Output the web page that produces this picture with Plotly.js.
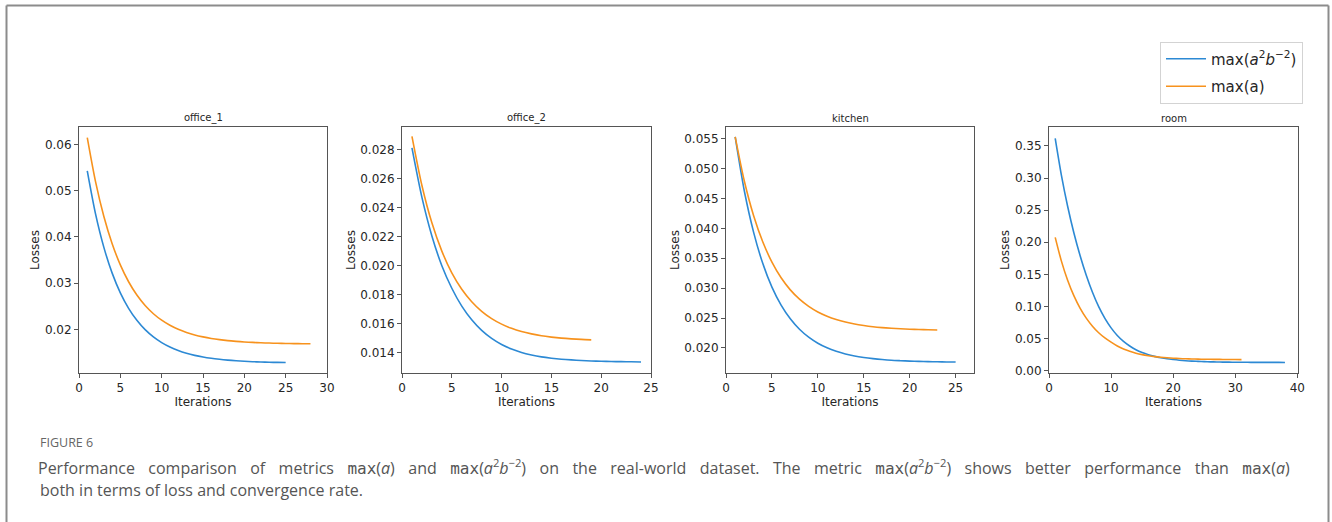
<!DOCTYPE html>
<html><head><meta charset="utf-8">
<script src="https://cdn.plot.ly/plotly-3.0.1.min.js"></script>
<style>html,body{margin:0;padding:0;background:#fff}</style>
</head><body><div id="chart" style="width:1332px;height:522px"></div>
<script>
// ---- data ----
const panelTitles = ['office_1', 'office_2', 'kitchen', 'room'];
const seriesNames = ['max(<i>a</i><sup>2</sup><i>b</i><sup>−2</sup>)', 'max(a)'];

const office1Iter_blue = [1,2,3,4,5,6,7,8,9,10,11,12,13,14,15,16,17,18,19,20,21,22,23,24,25];
const office1Loss_blue = [0.05430,0.04500,0.03780,0.03222,0.02790,0.02455,0.02195,0.01993,0.01836,0.01713,0.01617,0.01542,0.01483,0.01437,0.01401,0.01373,0.01351,0.01333,0.01319,0.01308,0.01300,0.01293,0.01288,0.01284,0.01281];
const office1Iter_orange = [1,2,3,4,5,6,7,8,9,10,11,12,13,14,15,16,17,18,19,20,21,22,23,24,25,26,27,28];
const office1Loss_orange = [0.06150,0.05198,0.04449,0.03859,0.03395,0.03030,0.02742,0.02516,0.02338,0.02198,0.02088,0.02001,0.01933,0.01879,0.01837,0.01803,0.01777,0.01756,0.01740,0.01727,0.01717,0.01709,0.01703,0.01698,0.01694,0.01691,0.01689,0.01687];

const office2Iter_blue = [1,2,3,4,5,6,7,8,9,10,11,12,13,14,15,16,17,18,19,20,21,22,23,24];
const office2Loss_blue = [0.02810,0.02470,0.02205,0.02000,0.01845,0.01722,0.01628,0.01555,0.01500,0.01458,0.01427,0.01403,0.01386,0.01373,0.01364,0.01357,0.01352,0.01348,0.01345,0.01343,0.01341,0.01340,0.01339,0.01338];
const office2Iter_orange = [1,2,3,4,5,6,7,8,9,10,11,12,13,14,15,16,17,18,19];
const office2Loss_orange = [0.02890,0.02552,0.02295,0.02100,0.01951,0.01838,0.01752,0.01686,0.01636,0.01598,0.01569,0.01547,0.01531,0.01518,0.01509,0.01502,0.01497,0.01493,0.01490];

const kitchenIter_blue = [1,2,3,4,5,6,7,8,9,10,11,12,13,14,15,16,17,18,19,20,21,22,23,24,25];
const kitchenLoss_blue = [0.05530,0.04625,0.03937,0.03415,0.03018,0.02716,0.02487,0.02312,0.02180,0.02079,0.02002,0.01944,0.01900,0.01866,0.01841,0.01822,0.01807,0.01795,0.01787,0.01780,0.01775,0.01771,0.01768,0.01766,0.01765];
const kitchenIter_orange = [1,2,3,4,5,6,7,8,9,10,11,12,13,14,15,16,17,18,19,20,21,22,23];
const kitchenLoss_orange = [0.05530,0.04788,0.04216,0.03775,0.03435,0.03173,0.02971,0.02815,0.02695,0.02602,0.02531,0.02476,0.02433,0.02400,0.02375,0.02355,0.02340,0.02329,0.02320,0.02313,0.02308,0.02304,0.02301];

const roomIter_blue = [1,2,3,4,5,6,7,8,9,10,11,12,13,14,15,16,17,18,19,20,21,22,23,24,25,26,27,28,29,30,31,32,33,34,35,36,37,38];
const roomLoss_blue = [0.3618,0.3042,0.2561,0.2148,0.1794,0.1486,0.1221,0.0997,0.0815,0.0667,0.0548,0.0456,0.0384,0.0327,0.0283,0.0249,0.0223,0.0202,0.0185,0.0173,0.0163,0.0155,0.0149,0.0145,0.0141,0.0138,0.0136,0.0134,0.0133,0.0132,0.0131,0.01304,0.01298,0.01294,0.01291,0.01289,0.01287,0.01285];
const roomIter_orange = [1,2,3,4,5,6,7,8,9,10,11,12,13,14,15,16,17,18,19,20,21,22,23,24,25,26,27,28,29,30,31];
const roomLoss_orange = [0.2077,0.1706,0.1408,0.1168,0.0974,0.0818,0.0693,0.0591,0.0510,0.0444,0.0384,0.0337,0.0301,0.0272,0.0250,0.0233,0.0219,0.0209,0.0201,0.0194,0.0189,0.0185,0.0182,0.0180,0.0178,0.0177,0.0176,0.0175,0.0174,0.0174,0.0173];

const xTickVals = [[0,5,10,15,20,25,30],[0,5,10,15,20,25],[0,5,10,15,20,25],[0,10,20,30,40]];
const yTickVals = [
  [0.02,0.03,0.04,0.05,0.06],
  [0.014,0.016,0.018,0.020,0.022,0.024,0.026,0.028],
  [0.020,0.025,0.030,0.035,0.040,0.045,0.050,0.055],
  [0.00,0.05,0.10,0.15,0.20,0.25,0.30,0.35]
];
const yTickFormats = ['.2f', '.3f', '.3f', '.2f'];
const captionLabel = 'FIGURE 6';
const mono = t => '<span style="font-family:\'DejaVu Sans Mono\'">' + t + '</span>';
const captionLine1 = 'Performance comparison of metrics ' + mono('max') + '(<i>a</i>) and ' + mono('max') + '(<i>a</i><sup>2</sup><i>b</i><sup>−2</sup>) on the real-world dataset. The metric ' + mono('max') + '(<i>a</i><sup>2</sup><i>b</i><sup>−2</sup>) shows better performance than ' + mono('max') + '(<i>a</i>)';
const captionLine2 = 'both in terms of loss and convergence rate.';

// ---- layout geometry (pixels) ----
const W = 1332, H = 522;
const panelsPx = [[79,327],[402,651],[726,974],[1049,1298]];
const plotTop = 127, plotBottom = 373;
const xRanges = [[0,30],[0,25],[0,27],[0,40.1]];
const yRanges = [[0.01055,0.0638],[0.01262,0.02954],[0.01581,0.05695],[-0.0036,0.3795]];
const captionLeft = 38, captionRight = 1290;

const blue = '#2c89d4', orange = '#f7921d';
const seriesData = [
  [[office1Iter_blue, office1Loss_blue], [office1Iter_orange, office1Loss_orange]],
  [[office2Iter_blue, office2Loss_blue], [office2Iter_orange, office2Loss_orange]],
  [[kitchenIter_blue, kitchenLoss_blue], [kitchenIter_orange, kitchenLoss_orange]],
  [[roomIter_blue, roomLoss_blue], [roomIter_orange, roomLoss_orange]]
];

const traces = [];
const layout = {
  width: W, height: H,
  margin: {l:0, r:0, t:0, b:0},
  paper_bgcolor: '#fff', plot_bgcolor: '#fff',
  font: {family: 'DejaVu Sans', color: '#262626', size: 12},
  showlegend: true,
  legend: {
    x: 1160/W, y: 1 - 41.5/H, xanchor: 'left', yanchor: 'top',
    bordercolor: '#d3d3d3', borderwidth: 1, bgcolor: '#fff',
    font: {family: 'DejaVu Sans', size: 15, color: '#262626'},
    traceorder: 'grouped', tracegroupgap: 5, itemwidth: 40
  },
  annotations: [], shapes: []
};

for (let i = 0; i < 4; i++) {
  const xa = i === 0 ? 'x' : 'x' + (i+1);
  const ya = i === 0 ? 'y' : 'y' + (i+1);
  const colors = [blue, orange];
  for (let s = 0; s < 2; s++) {
    traces.push({
      x: seriesData[i][s][0], y: seriesData[i][s][1],
      xaxis: xa, yaxis: ya, type: 'scatter', mode: 'lines',
      line: {color: colors[s], width: 1.6, shape: 'spline', smoothing: 0.8},
      name: seriesNames[s], showlegend: i === 0, legendgroup: 'g' + s,
      hoverinfo: 'skip'
    });
  }
  const axCommon = {
    showline: true, mirror: true, linecolor: '#555', linewidth: 1,
    ticks: 'outside', ticklen: 4, tickcolor: '#555', tickwidth: 1,
    showgrid: false, zeroline: false, automargin: false,
    tickfont: {family: 'DejaVu Sans', size: 12, color: '#262626'}
  };
  layout['xaxis' + (i === 0 ? '' : i+1)] = Object.assign({}, axCommon, {
    domain: [panelsPx[i][0]/W, panelsPx[i][1]/W],
    anchor: ya, range: xRanges[i], tickmode: 'array', tickvals: xTickVals[i],
    title: {text: 'Iterations', font: {size: 12, family: 'DejaVu Sans', color: '#262626'}, standoff: 2}
  });
  layout['yaxis' + (i === 0 ? '' : i+1)] = Object.assign({}, axCommon, {
    domain: [1 - plotBottom/H, 1 - plotTop/H],
    anchor: xa, range: yRanges[i], tickmode: 'array', tickvals: yTickVals[i], tickformat: yTickFormats[i],
    title: {text: 'Losses', font: {size: 12, family: 'DejaVu Sans', color: '#262626'}, standoff: 2}
  });
  layout.annotations.push({
    text: panelTitles[i], xref: xa + ' domain', yref: ya + ' domain', x: 0.5, y: 1,
    xanchor: 'center', yanchor: 'bottom', yshift: 1, showarrow: false,
    font: {family: 'DejaVu Sans', size: 10, color: '#262626'}
  });
}

// caption
layout.annotations.push({
  text: captionLabel, xref: 'paper', yref: 'paper', x: captionLeft/W, y: 1 - 442/H,
  xanchor: 'left', yanchor: 'middle', showarrow: false,
  font: {family: 'Open Sans', size: 12.5, color: '#666'}
});
layout.annotations.push({
  text: captionLine1, xref: 'paper', yref: 'paper', x: captionLeft/W, y: 1 - 467/H,
  xanchor: 'left', yanchor: 'middle', showarrow: false,
  font: {family: 'Open Sans', size: 16, color: '#555'}
});
layout.annotations.push({
  text: captionLine2, xref: 'paper', yref: 'paper', x: captionLeft/W, y: 1 - 490/H,
  xanchor: 'left', yanchor: 'middle', showarrow: false,
  font: {family: 'Open Sans', size: 16, color: '#555'}
});

// frame (left, top, right)
const frameColor = '#8c8c8c';
layout.shapes.push(
  {type: 'line', xref: 'paper', yref: 'paper', x0: 6.5/W, x1: 6.5/W, y0: 0, y1: 1 - 5.5/H, line: {color: frameColor, width: 2}},
  {type: 'line', xref: 'paper', yref: 'paper', x0: 6.5/W, x1: 1328.5/W, y0: 1 - 5.5/H, y1: 1 - 5.5/H, line: {color: frameColor, width: 2}},
  {type: 'line', xref: 'paper', yref: 'paper', x0: 1328.5/W, x1: 1328.5/W, y0: 0, y1: 1 - 5.5/H, line: {color: frameColor, width: 2}}
);

Plotly.newPlot('chart', traces, layout, {displayModeBar: false, staticPlot: true}).then(gd => {
  // justify the first caption line (as in the printed figure caption)
  gd.querySelectorAll('.annotation-text').forEach(t => {
    if (!t.textContent.startsWith('Performance')) return;
    const nSpaces = (t.textContent.match(/ /g) || []).length;
    const w0 = t.getBoundingClientRect().width;
    const ws = (captionRight - captionLeft - w0) / nSpaces;
    if (ws > 0) t.style.wordSpacing = ws + 'px';
    const host = gd.getBoundingClientRect();
    const r = t.getBoundingClientRect();
    const dx = captionLeft - (r.left - host.left);
    const prev = t.getAttribute('transform') || '';
    t.setAttribute('transform', prev + ' translate(' + dx + ',0)');
  });
});
</script>
</body></html>
